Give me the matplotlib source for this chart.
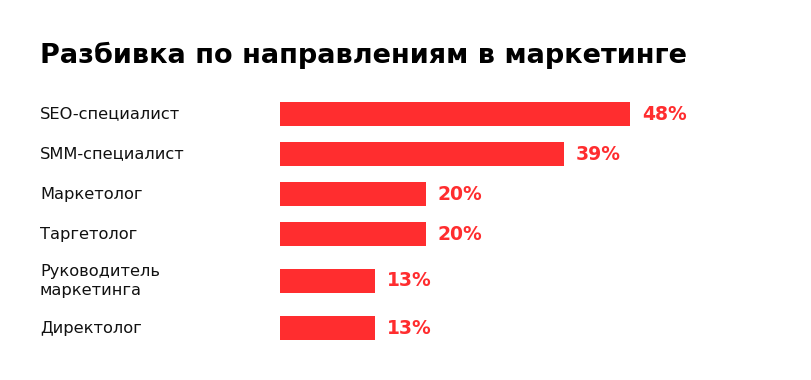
import matplotlib.pyplot as plt
from matplotlib.transforms import blended_transform_factory

# данные: доля вакансий по направлениям
categories = ['SEO-специалист', 'SMM-специалист', 'Маркетолог', 'Таргетолог',
              'Руководитель\nмаркетинга', 'Директолог']
values = [48, 39, 20, 20, 13, 13]
value_labels = ['48%', '39%', '20%', '20%', '13%', '13%']

# раскладка: строки с двухстрочной подписью чуть ниже
rows = [0, 1, 2, 3, 4.175, 5.35]
RED = '#ff2d2f'

fig = plt.figure(figsize=(8.12, 3.8), dpi=100)
ax = fig.add_axes([280 / 812, 32 / 380, 532 / 812, 254 / 380])

ax.barh(rows, values, height=0.6, color=RED)
ax.set_xlim(0, 532 / 7.29)
ax.set_ylim(5.85, -0.5)
ax.axis('off')

for y, v, lab in zip(rows, values, value_labels):
    ax.annotate(lab, (v, y), xytext=(8.5, 0), textcoords='offset points',
                ha='left', va='center', color=RED, fontsize=13.5,
                fontweight='bold', family='DejaVu Sans')

trans = blended_transform_factory(fig.transFigure, ax.transData)
for y, cat in zip(rows, categories):
    ax.text(40 / 812, y, cat, transform=trans, ha='left', va='center',
            fontsize=11.7, family='DejaVu Sans', color='#111111',
            linespacing=1.4)

fig.text(40 / 812, 1 - 55 / 380, 'Разбивка по направлениям в маркетинге',
         ha='left', va='center', fontsize=19.5, fontweight='heavy',
         family='DejaVu Sans', color='#000000')

fig.savefig('out.png', dpi=100)
